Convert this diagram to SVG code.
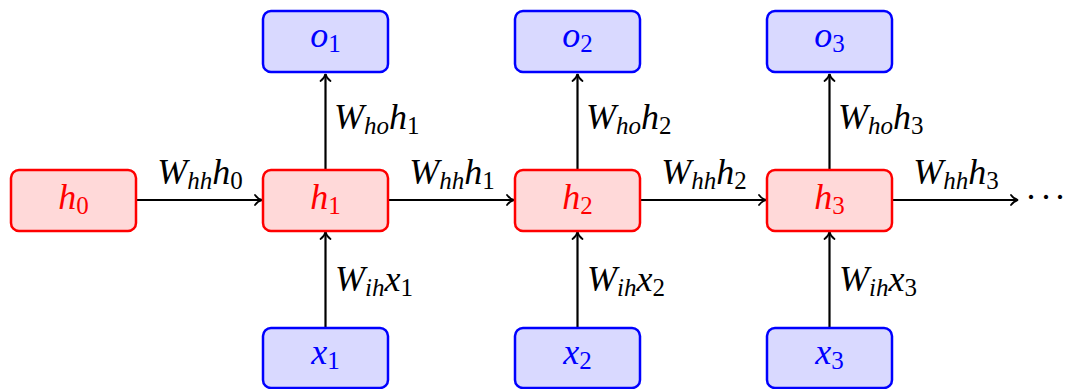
<svg xmlns="http://www.w3.org/2000/svg" width="1065" height="389" viewBox="0 0 1065 389">
<style>
.hbox{fill:#ffd9d9;stroke:#ff0000;stroke-width:2.5}
.bbox{fill:#d9d9ff;stroke:#0000ff;stroke-width:2.5}
text{font-family:'Liberation Serif','Times New Roman',serif;font-style:italic;font-size:36px}
.red{fill:#ff0000}
.blue{fill:#0000ff}
.blk{fill:#000}
.sub{font-size:25px}
.num{font-style:normal}
.arr{stroke:#000;stroke-width:2.2;fill:none;marker-end:url(#ah)}
</style>
<defs>
<marker id="ah" markerUnits="userSpaceOnUse" viewBox="-9 -6 11 12" refX="0" refY="0" markerWidth="11" markerHeight="12" orient="auto" overflow="visible">
<path d="M-7,-5 C-5,-2.2 -2.5,-0.6 0,0 C-2.5,0.6 -5,2.2 -7,5" fill="none" stroke="#000" stroke-width="1.8" stroke-linecap="round"/>
</marker>
</defs>
<g id="connectors">
<line class="arr" x1="137" y1="200" x2="262" y2="200"/>
<line class="arr" x1="389" y1="200" x2="514" y2="200"/>
<line class="arr" x1="641" y1="200" x2="766" y2="200"/>
<line class="arr" x1="893" y1="200" x2="1018" y2="200"/>
<line class="arr" x1="325.5" y1="169" x2="325.5" y2="74"/>
<line class="arr" x1="577.5" y1="169" x2="577.5" y2="74"/>
<line class="arr" x1="829.5" y1="169" x2="829.5" y2="74"/>
<line class="arr" x1="325.5" y1="327" x2="325.5" y2="232"/>
<line class="arr" x1="577.5" y1="327" x2="577.5" y2="232"/>
<line class="arr" x1="829.5" y1="327" x2="829.5" y2="232"/>
<text class="blk" x="200" y="184" text-anchor="middle">W<tspan class="sub" dy="5">hh</tspan><tspan dy="-5">h</tspan><tspan class="sub num" dy="5">0</tspan></text>
<text class="blk" x="452" y="184" text-anchor="middle">W<tspan class="sub" dy="5">hh</tspan><tspan dy="-5">h</tspan><tspan class="sub num" dy="5">1</tspan></text>
<text class="blk" x="704" y="184" text-anchor="middle">W<tspan class="sub" dy="5">hh</tspan><tspan dy="-5">h</tspan><tspan class="sub num" dy="5">2</tspan></text>
<text class="blk" x="956" y="184" text-anchor="middle">W<tspan class="sub" dy="5">hh</tspan><tspan dy="-5">h</tspan><tspan class="sub num" dy="5">3</tspan></text>
<text class="blk" x="334" y="129">W<tspan class="sub" dy="5">ho</tspan><tspan dy="-5">h</tspan><tspan class="sub num" dy="5">1</tspan></text>
<text class="blk" x="586" y="129">W<tspan class="sub" dy="5">ho</tspan><tspan dy="-5">h</tspan><tspan class="sub num" dy="5">2</tspan></text>
<text class="blk" x="838" y="129">W<tspan class="sub" dy="5">ho</tspan><tspan dy="-5">h</tspan><tspan class="sub num" dy="5">3</tspan></text>
<text class="blk" x="335" y="291">W<tspan class="sub" dy="5">ih</tspan><tspan dy="-5">x</tspan><tspan class="sub num" dy="5">1</tspan></text>
<text class="blk" x="587" y="291">W<tspan class="sub" dy="5">ih</tspan><tspan dy="-5">x</tspan><tspan class="sub num" dy="5">2</tspan></text>
<text class="blk" x="839" y="291">W<tspan class="sub" dy="5">ih</tspan><tspan dy="-5">x</tspan><tspan class="sub num" dy="5">3</tspan></text>
<text class="blk num" y="209" text-anchor="middle"><tspan x="1031">·</tspan><tspan x="1046">·</tspan><tspan x="1060">·</tspan></text>
</g>
<g id="h0"><rect class="hbox" x="11" y="170" width="125" height="61" rx="8"/><text class="red" x="73.5" y="209" text-anchor="middle">h<tspan class="sub num" dy="5">0</tspan></text></g>
<g id="h1"><rect class="hbox" x="263" y="170" width="125" height="61" rx="8"/><text class="red" x="325.5" y="209" text-anchor="middle">h<tspan class="sub num" dy="5">1</tspan></text></g>
<g id="h2"><rect class="hbox" x="515" y="170" width="125" height="61" rx="8"/><text class="red" x="577.5" y="209" text-anchor="middle">h<tspan class="sub num" dy="5">2</tspan></text></g>
<g id="h3"><rect class="hbox" x="767" y="170" width="125" height="61" rx="8"/><text class="red" x="829.5" y="209" text-anchor="middle">h<tspan class="sub num" dy="5">3</tspan></text></g>
<g id="o1"><rect class="bbox" x="263" y="11" width="125" height="61" rx="8"/><text class="blue" x="325.5" y="47" text-anchor="middle">o<tspan class="sub num" dy="5">1</tspan></text></g>
<g id="o2"><rect class="bbox" x="515" y="11" width="125" height="61" rx="8"/><text class="blue" x="577.5" y="47" text-anchor="middle">o<tspan class="sub num" dy="5">2</tspan></text></g>
<g id="o3"><rect class="bbox" x="767" y="11" width="125" height="61" rx="8"/><text class="blue" x="829.5" y="47" text-anchor="middle">o<tspan class="sub num" dy="5">3</tspan></text></g>
<g id="x1"><rect class="bbox" x="263" y="328" width="125" height="60" rx="8"/><text class="blue" x="325.5" y="364" text-anchor="middle">x<tspan class="sub num" dy="5">1</tspan></text></g>
<g id="x2"><rect class="bbox" x="515" y="328" width="125" height="60" rx="8"/><text class="blue" x="577.5" y="364" text-anchor="middle">x<tspan class="sub num" dy="5">2</tspan></text></g>
<g id="x3"><rect class="bbox" x="767" y="328" width="125" height="60" rx="8"/><text class="blue" x="829.5" y="364" text-anchor="middle">x<tspan class="sub num" dy="5">3</tspan></text></g>
</svg>
